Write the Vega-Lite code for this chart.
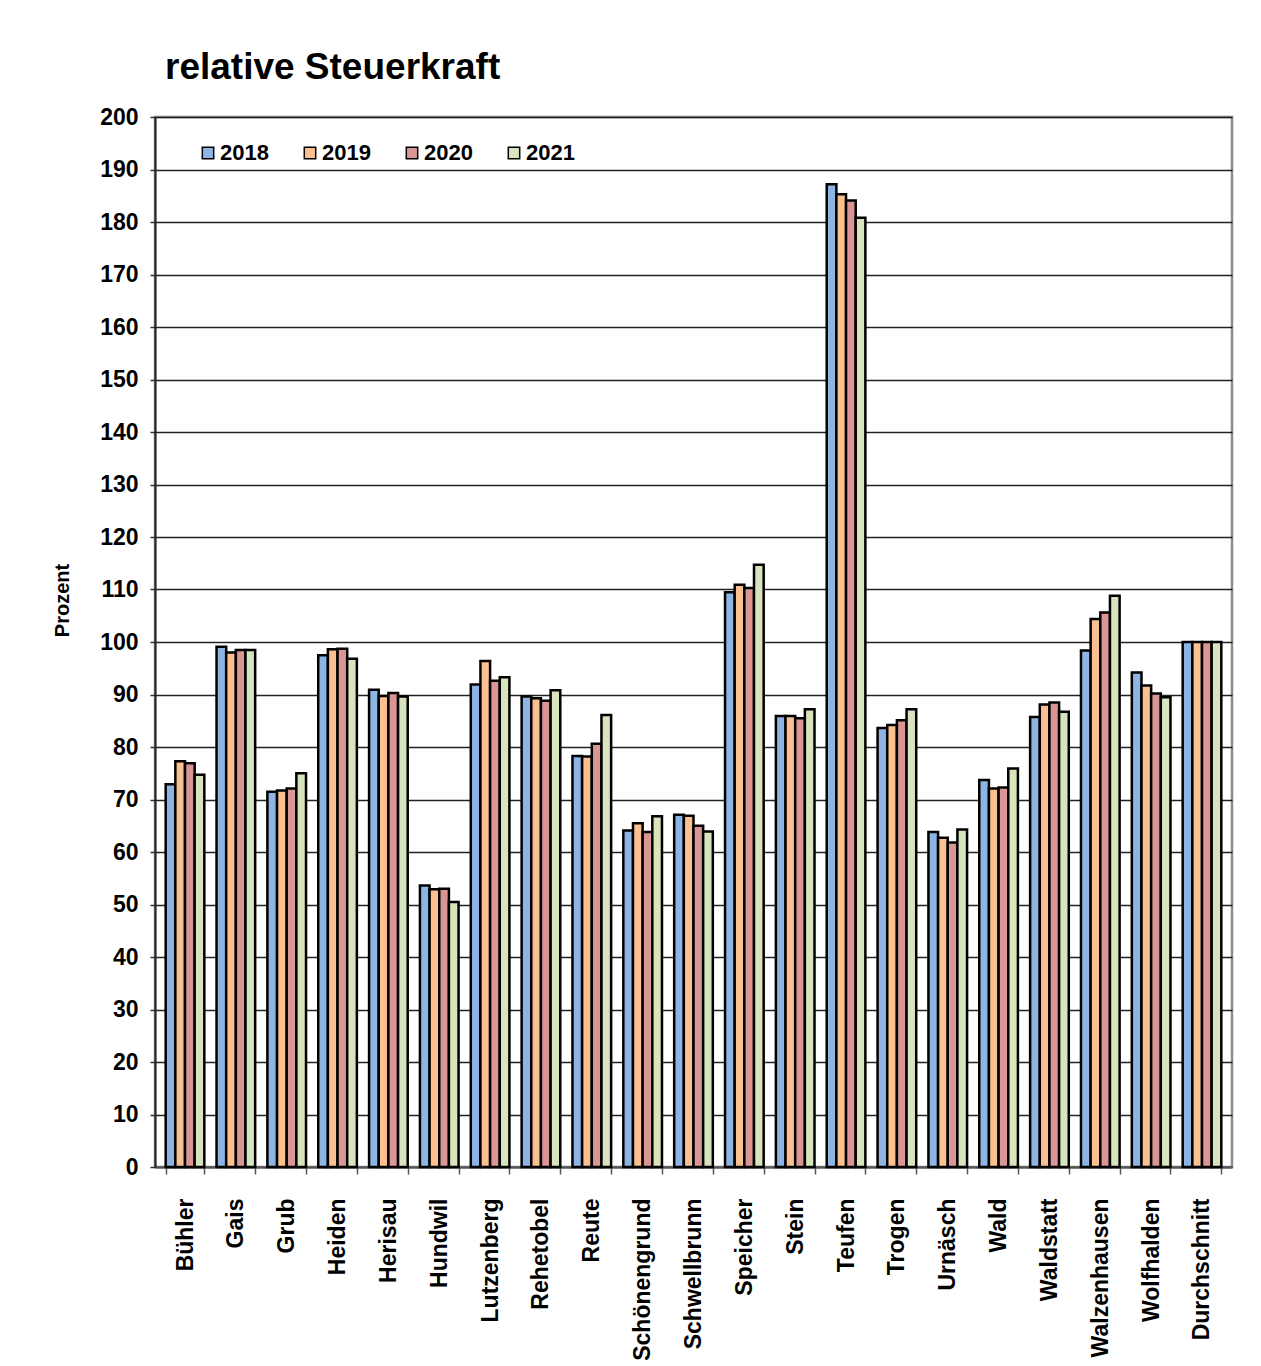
{
  "$schema": "https://vega.github.io/schema/vega-lite/v6.json",
  "autosize": {"type": "none"},
  "width": 1077,
  "height": 1050,
  "padding": {"left": 155, "top": 117, "right": 29, "bottom": 199},
  "background": "white",
  "title": {
    "text": "relative Steuerkraft",
    "anchor": "start",
    "frame": "group",
    "dx": 10,
    "offset": -10,
    "baseline": "alphabetic",
    "font": "Liberation Sans",
    "fontSize": 37,
    "fontWeight": "bold",
    "color": "black"
  },
  "config": {
    "view": {"stroke": "#8c8c8c", "strokeWidth": 2.5},
    "font": "Liberation Sans"
  },
  "data": {
    "values": [
      {"g": "Bühler", "year": "2018", "v": 72.9},
      {"g": "Bühler", "year": "2019", "v": 77.3},
      {"g": "Bühler", "year": "2020", "v": 76.9},
      {"g": "Bühler", "year": "2021", "v": 74.7},
      {"g": "Gais", "year": "2018", "v": 99.1},
      {"g": "Gais", "year": "2019", "v": 98.0},
      {"g": "Gais", "year": "2020", "v": 98.5},
      {"g": "Gais", "year": "2021", "v": 98.5},
      {"g": "Grub", "year": "2018", "v": 71.5},
      {"g": "Grub", "year": "2019", "v": 71.7},
      {"g": "Grub", "year": "2020", "v": 72.1},
      {"g": "Grub", "year": "2021", "v": 75.0},
      {"g": "Heiden", "year": "2018", "v": 97.5},
      {"g": "Heiden", "year": "2019", "v": 98.6},
      {"g": "Heiden", "year": "2020", "v": 98.7},
      {"g": "Heiden", "year": "2021", "v": 96.8},
      {"g": "Herisau", "year": "2018", "v": 90.9},
      {"g": "Herisau", "year": "2019", "v": 89.7},
      {"g": "Herisau", "year": "2020", "v": 90.3},
      {"g": "Herisau", "year": "2021", "v": 89.6},
      {"g": "Hundwil", "year": "2018", "v": 53.6},
      {"g": "Hundwil", "year": "2019", "v": 52.9},
      {"g": "Hundwil", "year": "2020", "v": 53.0},
      {"g": "Hundwil", "year": "2021", "v": 50.5},
      {"g": "Lutzenberg", "year": "2018", "v": 91.9},
      {"g": "Lutzenberg", "year": "2019", "v": 96.4},
      {"g": "Lutzenberg", "year": "2020", "v": 92.6},
      {"g": "Lutzenberg", "year": "2021", "v": 93.3},
      {"g": "Rehetobel", "year": "2018", "v": 89.6},
      {"g": "Rehetobel", "year": "2019", "v": 89.3},
      {"g": "Rehetobel", "year": "2020", "v": 88.8},
      {"g": "Rehetobel", "year": "2021", "v": 90.8},
      {"g": "Reute", "year": "2018", "v": 78.3},
      {"g": "Reute", "year": "2019", "v": 78.2},
      {"g": "Reute", "year": "2020", "v": 80.6},
      {"g": "Reute", "year": "2021", "v": 86.1},
      {"g": "Schönengrund", "year": "2018", "v": 64.1},
      {"g": "Schönengrund", "year": "2019", "v": 65.5},
      {"g": "Schönengrund", "year": "2020", "v": 63.8},
      {"g": "Schönengrund", "year": "2021", "v": 66.8},
      {"g": "Schwellbrunn", "year": "2018", "v": 67.1},
      {"g": "Schwellbrunn", "year": "2019", "v": 66.9},
      {"g": "Schwellbrunn", "year": "2020", "v": 65.0},
      {"g": "Schwellbrunn", "year": "2021", "v": 63.9},
      {"g": "Speicher", "year": "2018", "v": 109.5},
      {"g": "Speicher", "year": "2019", "v": 110.9},
      {"g": "Speicher", "year": "2020", "v": 110.3},
      {"g": "Speicher", "year": "2021", "v": 114.7},
      {"g": "Stein", "year": "2018", "v": 85.9},
      {"g": "Stein", "year": "2019", "v": 85.9},
      {"g": "Stein", "year": "2020", "v": 85.5},
      {"g": "Stein", "year": "2021", "v": 87.2},
      {"g": "Teufen", "year": "2018", "v": 187.2},
      {"g": "Teufen", "year": "2019", "v": 185.3},
      {"g": "Teufen", "year": "2020", "v": 184.1},
      {"g": "Teufen", "year": "2021", "v": 180.8},
      {"g": "Trogen", "year": "2018", "v": 83.6},
      {"g": "Trogen", "year": "2019", "v": 84.2},
      {"g": "Trogen", "year": "2020", "v": 85.1},
      {"g": "Trogen", "year": "2021", "v": 87.2},
      {"g": "Urnäsch", "year": "2018", "v": 63.8},
      {"g": "Urnäsch", "year": "2019", "v": 62.7},
      {"g": "Urnäsch", "year": "2020", "v": 61.8},
      {"g": "Urnäsch", "year": "2021", "v": 64.3},
      {"g": "Wald", "year": "2018", "v": 73.7},
      {"g": "Wald", "year": "2019", "v": 72.1},
      {"g": "Wald", "year": "2020", "v": 72.3},
      {"g": "Wald", "year": "2021", "v": 75.9},
      {"g": "Waldstatt", "year": "2018", "v": 85.7},
      {"g": "Waldstatt", "year": "2019", "v": 88.1},
      {"g": "Waldstatt", "year": "2020", "v": 88.5},
      {"g": "Waldstatt", "year": "2021", "v": 86.7},
      {"g": "Walzenhausen", "year": "2018", "v": 98.4},
      {"g": "Walzenhausen", "year": "2019", "v": 104.4},
      {"g": "Walzenhausen", "year": "2020", "v": 105.6},
      {"g": "Walzenhausen", "year": "2021", "v": 108.8},
      {"g": "Wolfhalden", "year": "2018", "v": 94.2},
      {"g": "Wolfhalden", "year": "2019", "v": 91.7},
      {"g": "Wolfhalden", "year": "2020", "v": 90.2},
      {"g": "Wolfhalden", "year": "2021", "v": 89.5},
      {"g": "Durchschnitt", "year": "2018", "v": 100},
      {"g": "Durchschnitt", "year": "2019", "v": 100},
      {"g": "Durchschnitt", "year": "2020", "v": 100},
      {"g": "Durchschnitt", "year": "2021", "v": 100}
    ]
  },
  "mark": {"type": "bar", "stroke": "black", "strokeWidth": 2.5},
  "encoding": {
    "x": {
      "field": "g",
      "type": "nominal",
      "sort": null,
      "scale": {"paddingInner": 0.24, "paddingOuter": 0.21},
      "axis": {
        "title": null,
        "labelAngle": -90,
        "labelAlign": "right",
        "labelBaseline": "middle",
        "labelFont": "Liberation Sans",
        "labelFontSize": 23,
        "labelFontWeight": "bold",
        "labelColor": "black",
        "labelPadding": 24,
        "labelLimit": 300,
        "tickBand": "extent",
        "tickSize": 7,
        "tickColor": "#555",
        "tickWidth": 1.5,
        "domainColor": "#555",
        "domainWidth": 2,
        "grid": false
      }
    },
    "xOffset": {
      "field": "year",
      "type": "nominal",
      "scale": {"paddingInner": 0, "paddingOuter": 0}
    },
    "y": {
      "field": "v",
      "type": "quantitative",
      "scale": {"domain": [0, 200], "nice": false, "zero": true},
      "axis": {
        "title": "Prozent",
        "titleFont": "Liberation Sans",
        "titleFontSize": 20,
        "titleFontWeight": "bold",
        "titleColor": "black",
        "titleAngle": -90,
        "titleX": -93,
        "titleY": 483,
        "titleAlign": "center",
        "titleBaseline": "middle",
        "values": [0, 10, 20, 30, 40, 50, 60, 70, 80, 90, 100, 110, 120, 130, 140, 150, 160, 170, 180, 190, 200],
        "labelFont": "Liberation Sans",
        "labelFontSize": 23,
        "labelFontWeight": "bold",
        "labelColor": "black",
        "labelPadding": 12,
        "tickSize": 5,
        "tickColor": "#333",
        "tickWidth": 1.5,
        "domainColor": "#222",
        "domainWidth": 2,
        "grid": true,
        "gridColor": "#222",
        "gridWidth": 1.3
      }
    },
    "color": {
      "field": "year",
      "type": "nominal",
      "scale": {
        "domain": ["2018", "2019", "2020", "2021"],
        "range": ["#8EB4E3", "#FAC090", "#D99694", "#D7E4BD"]
      },
      "legend": {
        "title": null,
        "orient": "none",
        "legendX": 42,
        "legendY": 25,
        "direction": "horizontal",
        "columns": 4,
        "columnPadding": 30,
        "symbolType": "square",
        "symbolSize": 130,
        "symbolStrokeColor": "black",
        "symbolStrokeWidth": 1.5,
        "labelFont": "Liberation Sans",
        "labelFontSize": 22,
        "labelFontWeight": "bold",
        "labelColor": "black",
        "labelOffset": 1
      }
    }
  }
}
